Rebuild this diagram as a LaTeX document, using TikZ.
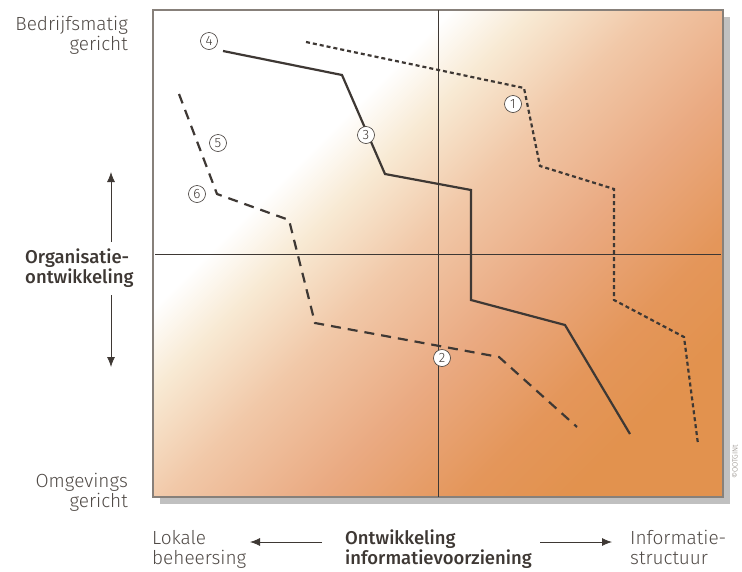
\documentclass[tikz,border=0pt]{standalone}
\usepackage{fontspec}
\setmainfont{Fira Sans Light}[BoldFont={Fira Sans Medium}]
\usetikzlibrary{arrows.meta}
\definecolor{ink}{RGB}{62,56,52}
\definecolor{txt}{RGB}{80,74,70}
\definecolor{rim}{RGB}{135,128,122}
\definecolor{shadowgray}{RGB}{192,192,192}
\definecolor{pcream}{RGB}{248,234,212}
\definecolor{ppeach}{RGB}{241,200,168}
\definecolor{psalmon}{RGB}{234,170,130}
\definecolor{porange}{RGB}{228,150,90}
\definecolor{pdeep}{RGB}{226,146,78}
\pgfdeclarehorizontalshading{panelshade}{100bp}{color(0bp)=(white); color(34.5bp)=(white); color(40bp)=(pcream); color(48bp)=(ppeach); color(58bp)=(psalmon); color(68bp)=(porange); color(75bp)=(pdeep); color(100bp)=(pdeep)}
\begin{document}
\begin{tikzpicture}[x=1pt, y=-1pt, >={Latex[length=10pt,width=8pt]},
    lbl/.style={font=\fontsize{19}{20}\selectfont, text=txt, inner sep=0pt},
    bold lbl/.style={font=\fontsize{18.5}{20}\selectfont\bfseries, text=ink, inner sep=0pt},
    num/.style={circle, draw=ink, fill=white, line width=0.6pt, inner sep=0.8pt, minimum size=17pt, font=\fontsize{13.5}{13.5}\selectfont, text=ink},
    trend/.style={draw=ink, line width=2.2pt}]
    \useasboundingbox (0,0) rectangle (742,571);

    % paneel met schaduw
    \fill[shadowgray] (160,17) rectangle (730,504);
    \shade[shading=panelshade, shading angle=-45] (153,10) rectangle (723,497);
    \draw[rim, line width=1.2pt] (153,10) rectangle (723,497);
    \draw[ink, line width=0.6pt] (438,10) -- (438,497) (155,254) -- (721,254);

    % lijnen
    \draw[trend, dash pattern=on 4pt off 3pt] (306,42) -- (524,88) -- (540,166) -- (614,189) -- (614,300) -- (684,337) -- (698,444);
    \draw[trend] (223,51) -- (342,75) -- (385,174) -- (471,190) -- (471,300) -- (565,325) -- (630,434);
    \draw[trend, dash pattern=on 10pt off 7pt] (179,94) -- (217,194) -- (289,220) -- (315,323) -- (499,357) -- (577,427);

    \node[num] (n1) at (513,104) {1};
    \node[num] (n2) at (442,358) {2};
    \node[num] (n3) at (366,135) {3};
    \node[num] (n4) at (209,41) {4};
    \node[num] (n5) at (218,143) {5};
    \node[num] (n6) at (197,194) {6};

    % assen
    \node[lbl, align=right, anchor=north east] (bedr) at (128,16) {Bedrijfsmatig\\gericht};
    \node[lbl, align=right, anchor=north east] (omg) at (128,473) {Omgevings\\gericht};
    \node[bold lbl, align=left, anchor=west] (org) at (25,268) {Organisatie-\\ontwikkeling};
    \draw[->, ink, line width=0.8pt] (111,242) -- (111,172);
    \draw[->, ink, line width=0.8pt] (111,295) -- (111,367);

    \node[lbl, align=left, anchor=north west] (lok) at (152,530) {Lokale\\beheersing};
    \node[bold lbl, align=left, anchor=north west] (info) at (345,530) {Ontwikkeling\\informatievoorziening};
    \node[lbl, align=left, anchor=north west] (istr) at (630,530) {Informatie-\\structuur};
    \draw[->, ink, line width=0.8pt] (322,542) -- (250,542);
    \draw[->, ink, line width=0.8pt] (540,542) -- (612,542);

    \node[rotate=90, font=\fontsize{7.5}{7.5}\selectfont, text=rim] (copy) at (735,462) {©OOTGINt};
\end{tikzpicture}
\end{document}
